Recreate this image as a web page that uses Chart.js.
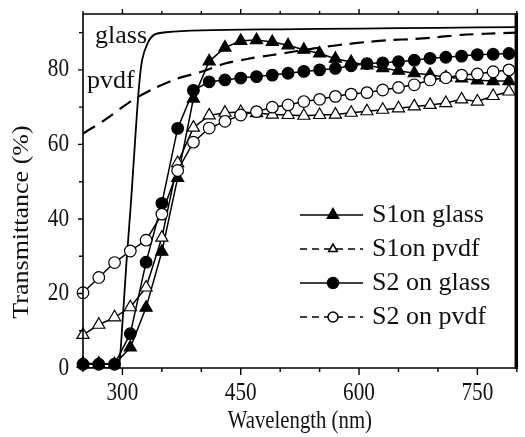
<!DOCTYPE html>
<html>
<head>
<meta charset="utf-8">
<script src="https://cdn.jsdelivr.net/npm/chart.js@4.4.1/dist/chart.umd.min.js"></script>
<style>
  html, body { margin: 0; padding: 0; background: #fff; }
  canvas { display: block; }
</style>
</head>
<body>
<canvas id="chart" width="525" height="437"></canvas>
<script>
// marker series, sampled every 20 nm
const wavelengths = [250, 270, 290, 310, 330, 350, 370, 390, 410, 430, 450, 470, 490, 510,
                     530, 550, 570, 590, 610, 630, 650, 670, 690, 710, 730, 750, 770, 790];
const s1Glass = [1.2, 1.2, 1.0, 5.5, 16.2, 31.2, 51, 72.3, 82.3, 86, 87.8, 88, 87.5, 86.6,
                 85.4, 84.4, 83, 82.1, 81.2, 80.5, 79.8, 79.1, 78.7, 78, 77.7, 77.2, 77, 77];
const s1Pvdf = [8.9, 11.6, 13.6, 16.3, 21.6, 35, 55, 64.5, 67.8, 68.5, 68.7, 68.4, 68, 67.9,
                67.7, 67.9, 68, 68.5, 68.9, 69.3, 69.7, 70.2, 70.6, 71.1, 72.1, 71.5, 73, 74.2];
const s2Glass = [1, 1, 1, 9.2, 28.4, 44.2, 64.3, 74.5, 76.8, 77.3, 77.8, 78.2, 78.6, 79.1,
                 79.6, 80, 80.4, 81.1, 81.7, 81.9, 82.2, 82.6, 83.1, 83.4, 83.7, 84.1, 84.2, 84.4];
const s2Pvdf = [20.2, 24.3, 28.3, 31.4, 34.3, 41.3, 53, 60.6, 64.4, 66.2, 67.9, 68.8, 70, 70.6,
                71.5, 72.1, 72.9, 73.5, 73.9, 74.6, 75.3, 76, 77.3, 77.9, 78.6, 78.9, 79.5, 80];

// bare substrate spectra
const glassX = [250, 293, 296, 300, 305, 311, 317, 321, 325, 332, 340, 355, 400, 500, 600, 700, 800];
const glassY = [0, 0, 1, 12, 28, 45, 64, 75.5, 82.7, 87.2, 89.4, 90.1, 90.6, 90.9, 91.1, 91.3, 91.5];
const pvdfX = [250, 280, 310, 340, 370, 400, 430, 460, 490, 520, 550, 580, 610, 640, 670, 700, 730, 760, 800];
const pvdfY = [62.9, 66.9, 71.5, 75, 77.7, 79.5, 81.7, 83, 84, 85, 86, 86.8, 87.5, 88, 88.3, 88.8, 89.4, 89.7, 90];

const seriesNames = ['S1on glass', 'S1on pvdf', 'S2 on glass', 'S2 on pvdf'];
const curveNames = ['glass', 'pvdf'];
const xMajorTicks = [300, 450, 600, 750];
const yMajorTicks = [0, 20, 40, 60, 80];

const serif = "'Liberation Serif', 'Times New Roman', serif";

function toPoints(xs, ys) {
    return xs.map((x, i) => ({ x: x, y: ys[i] }));
}

function drawText(ctx, text, x, y, size, align, sx, baseline) {
    ctx.save();
    ctx.translate(x, y);
    ctx.scale(sx, 1);
    ctx.font = size + 'px ' + serif;
    ctx.textAlign = align;
    ctx.textBaseline = baseline || 'middle';
    ctx.fillStyle = '#111';
    ctx.fillText(text, 0, 0);
    ctx.restore();
}

const markerStyles = [
    { pointStyle: 'triangle', radius: 7, fill: '#000', dashed: false },
    { pointStyle: 'triangle', radius: 7, fill: '#fff', dashed: true },
    { pointStyle: 'circle', radius: 5.8, fill: '#000', dashed: false },
    { pointStyle: 'circle', radius: 5.8, fill: '#fff', dashed: true }
];

function markerSet(label, values, style, order) {
    return {
        label: label,
        data: toPoints(wavelengths, values),
        borderColor: '#000',
        borderWidth: 1.5,
        pointStyle: style.pointStyle,
        pointRadius: style.radius,
        pointBackgroundColor: style.fill,
        pointBorderColor: '#000',
        pointBorderWidth: 1.2,
        tension: 0,
        clip: 8,
        order: order
    };
}

// frame, ticks, tick labels, titles and legend
const decorations = {
    id: 'decorations',
    afterDraw(chart) {
        const ctx = chart.ctx;
        const xs = chart.scales.x;
        const ys = chart.scales.y;
        const a = chart.chartArea;

        ctx.save();
        ctx.strokeStyle = '#000';
        ctx.lineWidth = 1.6;
        ctx.beginPath();
        ctx.moveTo(a.left, a.top);
        ctx.lineTo(a.right, a.top);
        ctx.moveTo(a.left, a.top);
        ctx.lineTo(a.left, a.bottom);
        ctx.lineTo(a.right, a.bottom);
        ctx.stroke();
        ctx.lineWidth = 3.5;
        ctx.beginPath();
        ctx.moveTo(a.right - 0.5, a.top - 1);
        ctx.lineTo(a.right - 0.5, a.bottom + 1);
        ctx.stroke();

        // x ticks, bottom and top, every 50 nm
        ctx.lineWidth = 1.4;
        ctx.beginPath();
        for (let v = 250; v <= 800; v += 50) {
            const px = xs.getPixelForValue(v);
            const major = xMajorTicks.includes(v);
            ctx.moveTo(px, a.bottom);
            ctx.lineTo(px, a.bottom + (major ? 7 : 4));
            ctx.moveTo(px, a.top);
            ctx.lineTo(px, a.top - (major ? 5 : 3));
        }
        // y ticks every 10
        for (let v = 0; v <= 90; v += 10) {
            const py = ys.getPixelForValue(v);
            const major = yMajorTicks.includes(v);
            ctx.moveTo(a.left, py);
            ctx.lineTo(a.left - (major ? 5 : 4), py);
        }
        ctx.stroke();
        ctx.restore();

        xMajorTicks.forEach(v => drawText(ctx, String(v), xs.getPixelForValue(v), 393, 25, 'center', 0.85));
        yMajorTicks.forEach(v => drawText(ctx, String(v), 69, ys.getPixelForValue(v), 25, 'right', 0.85));

        drawText(ctx, 'Wavelength (nm)', (a.left + a.right) / 2, 421, 25, 'center', 0.83);

        ctx.save();
        ctx.translate(22, 222);
        ctx.rotate(-Math.PI / 2);
        ctx.font = '26px ' + serif;
        ctx.textAlign = 'center';
        ctx.textBaseline = 'middle';
        ctx.fillStyle = '#111';
        ctx.scale(1, 0.85);
        ctx.fillText('Transmittance (%)', 0, 0);
        ctx.restore();

        // curve labels
        drawText(ctx, curveNames[0], 95, 43, 26, 'left', 1, 'alphabetic');
        drawText(ctx, curveNames[1], 87, 88, 26, 'left', 1, 'alphabetic');

        // legend
        const legendY = [215, 249, 283, 317];
        seriesNames.forEach((name, i) => {
            const st = markerStyles[i];
            const y = legendY[i];
            ctx.save();
            ctx.strokeStyle = '#000';
            ctx.lineWidth = 1.5;
            if (st.dashed) ctx.setLineDash([7, 5]);
            ctx.beginPath();
            ctx.moveTo(300, y);
            ctx.lineTo(363, y);
            ctx.stroke();
            ctx.setLineDash([]);
            ctx.fillStyle = st.fill;
            ctx.strokeStyle = '#000';
            Chart.helpers.drawPoint(ctx, {
                pointStyle: st.pointStyle,
                radius: st.dashed ? 5 : (st.pointStyle === 'triangle' ? 6.5 : 5.5),
                rotation: 0,
                borderWidth: 1.2
            }, 333, y);
            ctx.restore();
            drawText(ctx, name, 372, y, 26, 'left', 1);
        });
    }
};

new Chart(document.getElementById('chart'), {
    type: 'line',
    data: {
        datasets: [
            markerSet(seriesNames[3], s2Pvdf, markerStyles[3], 1),
            markerSet(seriesNames[2], s2Glass, markerStyles[2], 2),
            markerSet(seriesNames[1], s1Pvdf, markerStyles[1], 3),
            markerSet(seriesNames[0], s1Glass, markerStyles[0], 4),
            {
                label: curveNames[0],
                data: toPoints(glassX, glassY),
                borderColor: '#000',
                borderWidth: 1.8,
                pointRadius: 0,
                tension: 0.3,
                order: 5
            },
            {
                label: curveNames[1],
                data: toPoints(pvdfX, pvdfY),
                borderColor: '#000',
                borderWidth: 2.2,
                borderDash: [14, 8],
                pointRadius: 0,
                tension: 0.3,
                order: 6
            }
        ]
    },
    options: {
        responsive: false,
        animation: false,
        devicePixelRatio: 1,
        layout: { padding: { left: 83, right: 2, top: 14, bottom: 69 } },
        plugins: {
            legend: { display: false },
            tooltip: { enabled: false }
        },
        scales: {
            x: { type: 'linear', min: 250, max: 800, display: false },
            y: { type: 'linear', min: 0, max: 95, display: false }
        }
    },
    plugins: [decorations]
});
</script>
</body>
</html>
